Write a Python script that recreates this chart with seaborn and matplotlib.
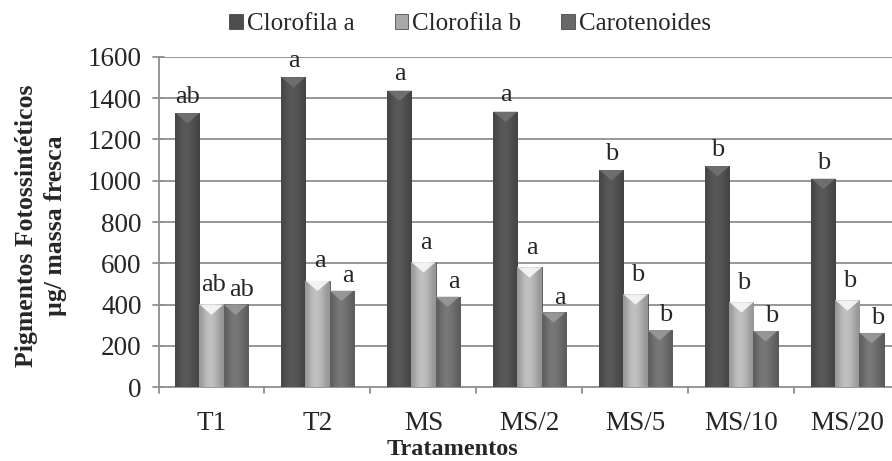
import numpy as np
import pandas as pd
import matplotlib
matplotlib.use("Agg")
import matplotlib.pyplot as plt
import seaborn as sns

tratamentos = ["T1", "T2", "MS", "MS/2", "MS/5", "MS/10", "MS/20"]
pigmentos = ["Clorofila a", "Clorofila b", "Carotenoides"]

clorofila_a = [1328, 1502, 1437, 1335, 1052, 1071, 1010]
clorofila_b = [400, 515, 605, 580, 449, 411, 420]
carotenoides = [400, 467, 438, 362, 276, 271, 262]

letras_a = ["ab", "a", "a", "a", "b", "b", "b"]
letras_b = ["ab", "a", "a", "a", "b", "b", "b"]
letras_c = ["ab", "a", "a", "a", "b", "b", "b"]

y_ticks = [0, 200, 400, 600, 800, 1000, 1200, 1400, 1600]

df = pd.DataFrame({
    "Tratamento": tratamentos * 3,
    "Pigmento": np.repeat(pigmentos, len(tratamentos)),
    "Valor": clorofila_a + clorofila_b + carotenoides,
})

sns.set_theme(style="white")
plt.rcParams["font.family"] = ["Liberation Serif", "DejaVu Serif"]

cores = {"Clorofila a": "#4d4d4d", "Clorofila b": "#a8a8a8", "Carotenoides": "#686868"}
fs = 19

fig = plt.figure(figsize=(8.92, 4.61), dpi=100)
ax = fig.add_axes([158.5 / 892, (461 - 387) / 461, 1 - 158.5 / 892, (387 - 57) / 461])

sns.barplot(data=df, x="Tratamento", y="Valor", hue="Pigmento", order=tratamentos,
            hue_order=pigmentos, palette=cores, width=0.68, gap=0,
            edgecolor="#333333", linewidth=0.5, ax=ax, legend=True, zorder=3)

# cylinder-like shading across each bar
shade = np.array([0.4, 0.75, 1.0, 1.0, 0.85, 0.6, 0.35])[None, :]
for patch in ax.patches:
    if patch.get_height() <= 0 or patch.get_width() <= 0:
        continue
    x0, y0 = patch.get_x(), patch.get_y()
    w, h = patch.get_width(), patch.get_height()
    base = np.array(matplotlib.colors.to_rgb(patch.get_facecolor()))
    img = np.clip(base[None, None, :] * (0.75 + 0.4 * shade[..., None]), 0, 1)
    im = ax.imshow(img, extent=[x0, x0 + w, y0, y0 + h], aspect="auto",
                   interpolation="bicubic", zorder=3.1)
    im.set_clip_path(patch)
    # bevelled top
    tri = plt.Polygon([[x0, y0 + h], [x0 + w, y0 + h], [x0 + w / 2, y0 + h - 50]],
                      closed=True, facecolor=np.clip(base * 1.5, 0, 1),
                      edgecolor="none", alpha=0.85, zorder=3.2)
    ax.add_patch(tri)

ax.set_xlim(-0.5, 6.42)
ax.set_ylim(0, 1600)
ax.set_yticks(y_ticks)
ax.set_yticklabels([str(v) for v in y_ticks], fontsize=fs + 0.5)
ax.set_xticks(range(len(tratamentos)))
ax.set_xticklabels(tratamentos, fontsize=fs + 0.5)
ax.tick_params(axis="x", length=0, pad=17)
ax.tick_params(axis="y", length=0, pad=12)

# gridlines and axis ticks
for v in y_ticks[1:]:
    ax.axhline(v, color="#8f8f8f", lw=1.3, zorder=1)
for spine in ["top", "right"]:
    ax.spines[spine].set_visible(False)
for spine in ["left", "bottom"]:
    ax.spines[spine].set_color("#8f8f8f")
    ax.spines[spine].set_linewidth(1.3)
for v in y_ticks:
    ax.plot([-0.55, -0.45], [v, v], color="#8f8f8f", lw=1.3, clip_on=False, zorder=2)
for i in range(len(tratamentos)):
    ax.plot([i - 0.5, i - 0.5], [0, -28], color="#8f8f8f", lw=1.3, clip_on=False, zorder=2)

# significance letters above each bar (staggered so neighbours don't collide)
bw = 0.68 / 3
label_pos = [(-bw, 0.0, 25), (0.0, 0.02, 42), (bw, 0.06, 18)]
for series, letras, (dx, nudge, dy) in zip([clorofila_a, clorofila_b, carotenoides],
                                           [letras_a, letras_b, letras_c], label_pos):
    for i, (v, t) in enumerate(zip(series, letras)):
        ax.text(i + dx + nudge, v + dy, t, ha="center", va="bottom", fontsize=fs, zorder=5)

ax.set_xlabel("")
ax.set_ylabel("")
fig.text(452 / 892, 1 / 461, "Tratamentos", fontsize=fs - 1.5, fontweight="bold",
         ha="center", va="bottom")
fig.text(41 / 892, 1 - 226 / 461, "Pigmentos Fotossintéticos\nµg/ massa fresca",
         fontsize=fs - 0.5, fontweight="bold", rotation=90, ha="center", va="center",
         multialignment="center", linespacing=1.3)

handles, labels = ax.get_legend_handles_labels()
ax.get_legend().remove()
fig.legend(handles, labels, loc="upper center", bbox_to_anchor=(0.527, 1.02), ncol=3,
           frameon=False, fontsize=fs - 1, handlelength=0.55, handleheight=0.55,
           handletextpad=0.15, columnspacing=1.6)

fig.savefig("out.png", dpi=100)
